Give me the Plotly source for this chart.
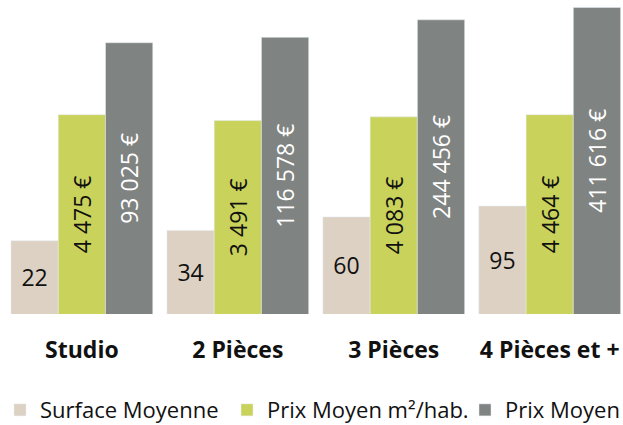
import plotly.graph_objects as go

categories = ["Studio", "2 Pièces", "3 Pièces", "4 Pièces et +"]
surface = [22, 34, 60, 95]
prix_m2 = [4475, 3491, 4083, 4464]
prix_moyen = [93025, 116578, 244456, 411616]


def euros(v):
    return f"{v:,}".replace(",", " ") + " €"


font = "Open Sans"

fig = go.Figure()

fig.add_trace(go.Bar(
    name="Surface Moyenne", x=categories, y=surface,
    text=[str(v) for v in surface], textposition="inside", textangle=0,
    insidetextanchor="middle",
    textfont=dict(family=font, size=23, color="#111111"),
    marker=dict(color="#ddd1c3"),
    legendwidth=182,
))
fig.add_trace(go.Bar(
    name="Prix Moyen m²/hab.", x=categories, y=prix_m2,
    text=[euros(v) for v in prix_m2], textposition="inside", textangle=-90,
    insidetextanchor="middle",
    textfont=dict(family=font, size=23, color="#111111"),
    marker=dict(color="#c9d35b"),
    legendwidth=193,
))
fig.add_trace(go.Bar(
    name="Prix Moyen", x=categories, y=prix_moyen,
    text=[euros(v) for v in prix_moyen], textposition="inside", textangle=-90,
    insidetextanchor="middle",
    textfont=dict(family=font, size=23, color="#ffffff"),
    marker=dict(color="#7f8381"),
    legendwidth=117,
))

fig.update_layout(
    width=623, height=425,
    margin=dict(l=0, r=0, t=0, b=111, autoexpand=False),
    barmode="group", bargap=0.091, bargroupgap=0,
    plot_bgcolor="white", paper_bgcolor="white",
    font=dict(family=font, color="#111111"),
    showlegend=True,
    legend=dict(orientation="h", x=0, xanchor="left", y=-0.306, yanchor="middle",
                font=dict(family=font, size=22, color="#111111"),
                bgcolor="rgba(0,0,0,0)"),
)
fig.update_xaxes(range=[-0.525, 3.47], showgrid=False, showline=False,
                 automargin=False, ticks="", ticklabelstandoff=20,
                 tickfont=dict(family=font, size=23, color="#111111", weight="bold"))
fig.update_yaxes(type="log", range=[0, 5.751], visible=False, showgrid=False,
                 automargin=False)

# page body has a default 8px margin; drop it so the figure fills the window
fig.write_html("out.html", config={"displayModeBar": False},
               post_script="document.body.style.margin = '0';")
